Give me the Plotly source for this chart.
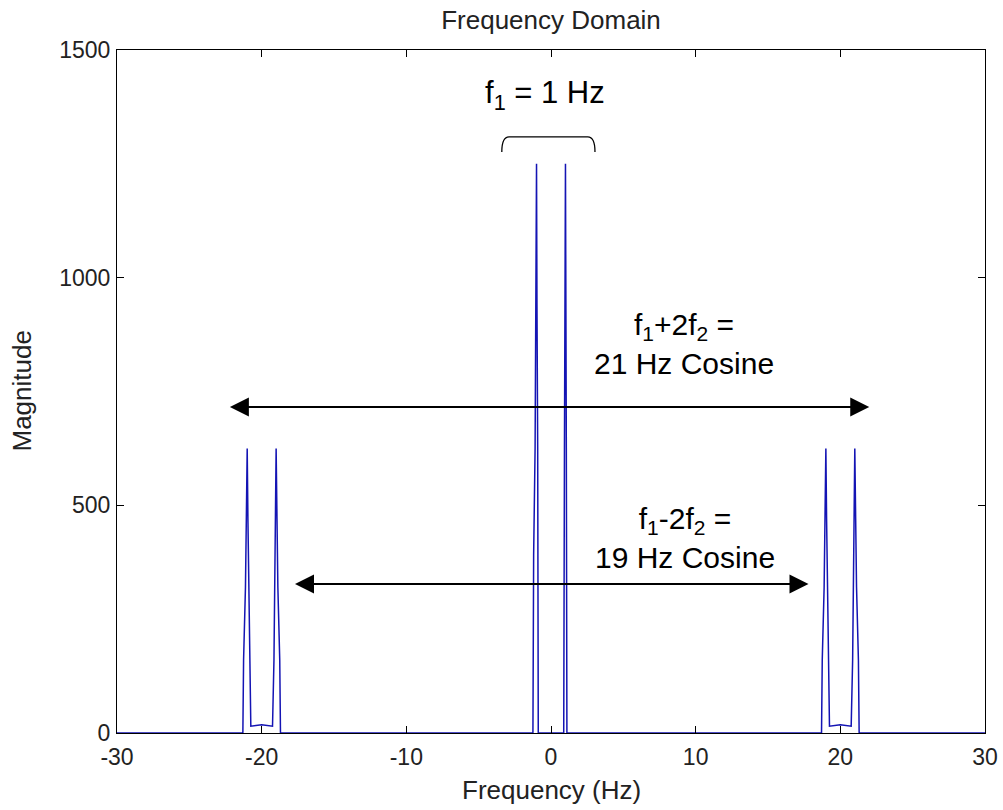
import plotly.graph_objects as go

# Spectrum samples (Hz, magnitude)
freq = [-30, -21.3, -21.25, -21.12, -21.06, -21.0, -20.95, -20.9, -20.85, -20.75,
        -20.0, -19.25, -19.15, -19.1, -19.05, -19.0, -18.94, -18.88, -18.75, -18.7,
        -1.25, -1.2, -1.1, -1.04, -1.0, -0.97, -0.92, -0.88,
        0.88, 0.93, 1.0, 1.06, 1.1,
        18.7, 18.75, 18.88, 18.94, 19.0, 19.05, 19.1, 19.15, 19.25,
        20.0, 20.75, 20.85, 20.9, 20.95, 21.0, 21.06, 21.12, 21.25, 21.3, 30]
magnitude = [0, 0, 160, 320, 470, 625, 470, 320, 160, 15,
             18, 15, 160, 320, 470, 625, 470, 320, 160, 0,
             0, 390, 625, 940, 1250, 940, 625, 0,
             0, 625, 1250, 625, 0,
             0, 160, 320, 470, 625, 470, 320, 160, 15,
             18, 15, 160, 320, 470, 625, 470, 320, 160, 0, 0]

x_ticks = [-30, -20, -10, 0, 10, 20, 30]
x_tick_text = ["-30", "-20", "-10", "0", "10", "20", "30"]
y_ticks = [0, 500, 1000, 1500]
y_tick_text = ["0", "500", "1000", "1500"]

title_text = "Frequency Domain"
x_title = "Frequency (Hz)"
y_title = "Magnitude"

fig = go.Figure()
fig.add_trace(go.Scatter(x=freq, y=magnitude, mode="lines",
                         line=dict(color="#1414b4", width=1.5),
                         hoverinfo="skip", showlegend=False))

ann_font = dict(family="Liberation Sans, Arial", size=30, color="black")
tick_font = dict(family="Liberation Sans, Arial", size=23, color="#222222")
label_font = dict(family="Liberation Sans, Arial", size=26, color="#222222")

annotations = [
    dict(x=-0.4, y=1402, xref="x", yref="y", text="f<sub>1</sub> = 1 Hz",
         showarrow=False, font=dict(family="Liberation Sans, Arial", size=31,
                                    color="black")),
    dict(x=9.2, y=855, xref="x", yref="y",
         text="f<sub>1</sub>+2f<sub>2</sub> =<br>21 Hz Cosine",
         showarrow=False, font=ann_font, align="center"),
    dict(x=9.25, y=428, xref="x", yref="y",
         text="f<sub>1</sub>-2f<sub>2</sub> =<br>19 Hz Cosine",
         showarrow=False, font=ann_font, align="center"),
    # double-headed arrows
    dict(x=22.0, y=716, ax=-22.3, ay=716, xref="x", yref="y", axref="x", ayref="y",
         text="", showarrow=True, arrowhead=2, arrowsize=1.9, arrowwidth=2,
         arrowside="end+start", arrowcolor="black"),
    dict(x=17.8, y=327, ax=-17.8, ay=327, xref="x", yref="y", axref="x", ayref="y",
         text="", showarrow=True, arrowhead=2, arrowsize=1.9, arrowwidth=2,
         arrowside="end+start", arrowcolor="black"),
    # axis titles
    dict(x=0.5, y=0, xref="paper", yref="paper", text=x_title, showarrow=False,
         yanchor="middle", yshift=-57, font=label_font),
    dict(x=0, y=0.5, xref="paper", yref="paper", text=y_title, showarrow=False,
         xanchor="center", textangle=-90, xshift=-96, font=label_font),
]

# bracket over the 1 Hz peaks
bx0, bx1, btop, bend = -3.4, 3.04, 1309, 1276
path = (f"M {bx0},{bend} Q {bx0},{btop} {bx0+0.5},{btop} "
        f"L {bx1-0.5},{btop} Q {bx1},{btop} {bx1},{bend}")
fig.add_shape(type="path", path=path, xref="x", yref="y",
              line=dict(color="black", width=1.3))

fig.update_layout(
    width=1003, height=810,
    margin=dict(l=117, r=18, t=50, b=77, autoexpand=False),
    paper_bgcolor="white", plot_bgcolor="white",
    title=dict(text=title_text, x=0.5, xanchor="center", xref="paper",
               y=1 - 20 / 810, yref="container", yanchor="middle",
               font=label_font),
    annotations=annotations,
    xaxis=dict(range=[-30, 30], tickvals=x_ticks, ticktext=x_tick_text,
               ticks="inside", ticklen=7, tickcolor="black",
               showline=True, linecolor="black", linewidth=1, mirror="ticks",
               showgrid=False, zeroline=False, tickfont=tick_font,
               ticklabelstandoff=3),
    yaxis=dict(range=[0, 1500], tickvals=y_ticks, ticktext=y_tick_text,
               ticks="inside", ticklen=7, tickcolor="black",
               showline=True, linecolor="black", linewidth=1, mirror="ticks",
               showgrid=False, zeroline=False, tickfont=tick_font,
               ticklabelstandoff=1),
)

fig.write_html("out.html",
               config={"displayModeBar": False},
               post_script="document.body.style.margin='0';"
                           "document.body.style.overflow='hidden';")
